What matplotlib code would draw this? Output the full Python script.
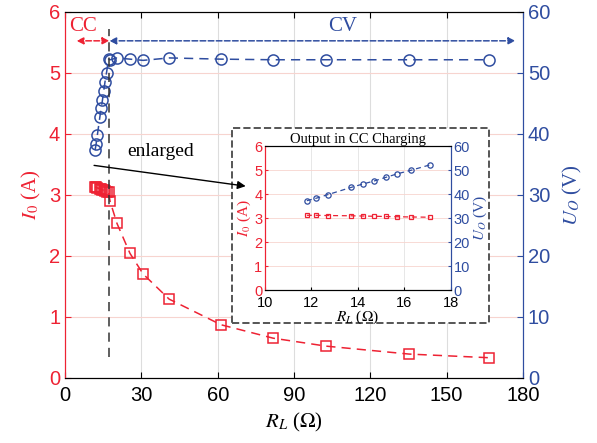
import numpy as np
import matplotlib
matplotlib.use("Agg")
import matplotlib.pyplot as plt
from matplotlib.patches import Rectangle

plt.rcParams['mathtext.fontset'] = 'stix'

# CC region (enlarged in inset)
rl_cc = [11.8, 12.2, 12.7, 13.7, 14.2, 14.7, 15.2, 15.7, 16.3, 17.1]
i_cc = [3.12, 3.12, 3.11, 3.10, 3.09, 3.08, 3.07, 3.06, 3.05, 3.04]
u_cc = [37.3, 38.3, 39.8, 42.8, 44.2, 45.5, 47.0, 48.5, 50.0, 52.2]

# CV region
rl_cv = [17.7, 20.4, 25.5, 30.7, 40.9, 61.3, 81.8, 102.6, 135.2, 166.7]
i_cv = [2.89, 2.53, 2.04, 1.70, 1.29, 0.87, 0.65, 0.52, 0.39, 0.33]
u_cv = [52.1, 52.4, 52.2, 52.0, 52.4, 52.2, 52.1, 52.1, 52.1, 52.1]

xticks = [0, 30, 60, 90, 120, 150, 180]
inset_xticks = [10, 12, 14, 16, 18]

RED = '#EE2233'
BLUE = '#2F4DA0'
SERIF = 'Liberation Serif'
SANS = 'Liberation Sans'

rl_all = rl_cc + rl_cv
i_all = i_cc + i_cv
u_all = u_cc + u_cv

fig = plt.figure(figsize=(5.97, 4.43), dpi=100)
ax = fig.add_axes([0.109, 0.147, 0.767, 0.827])
ax2 = ax.twinx()

ax.plot(rl_all, i_all, '--s', color=RED, mfc='none', ms=7, mew=1.1, lw=1.1,
        dashes=(6, 4))
ax2.plot(rl_all, u_all, '--o', color=BLUE, mfc='none', ms=8, mew=1.1, lw=1.1,
         dashes=(6, 4))

ax.set_xlim(0, 180)
ax.set_ylim(0, 6)
ax2.set_ylim(0, 60)
ax.set_xticks(xticks)
ax.set_yticks(range(7))
ax2.set_yticks(range(0, 61, 10))

ax.grid(axis='x', color='#dddddd', lw=0.8)
ax.grid(axis='y', color='#f7d4cf', lw=0.8)
ax.set_axisbelow(True)

for a in (ax, ax2):
    a.tick_params(direction='in', length=4, labelsize=14.5)
    for lab in a.get_xticklabels() + a.get_yticklabels():
        lab.set_family(SANS)
ax.tick_params(axis='y', colors=RED)
ax2.tick_params(axis='y', colors=BLUE)
ax.tick_params(axis='x', top=True, pad=6)
for a in (ax, ax2):
    a.spines['left'].set_color(RED)
    a.spines['right'].set_color(BLUE)

ax.set_xlabel(r'$R_L$ ($\Omega$)', fontsize=15, family=SERIF)
ax.set_ylabel(r'$I_0$ (A)', fontsize=15, color=RED, family=SERIF)
ax2.set_ylabel(r'$U_O$ (V)', fontsize=15, color=BLUE, family=SERIF, labelpad=8)

# boundary line and region arrows
ax2.plot([17.4, 17.4], [3.4, 57.2], '--', color='#333333', lw=1.1, dashes=(6, 4))
ax2.annotate('', xy=(4.5, 55.2), xytext=(17.4, 55.2),
             arrowprops=dict(arrowstyle='<|-|>', color=RED, lw=1.1, ls='--',
                             mutation_scale=10, shrinkA=0, shrinkB=0))
ax2.annotate('', xy=(177, 55.2), xytext=(17.4, 55.2),
             arrowprops=dict(arrowstyle='<|-|>', color=BLUE, lw=1.1, ls='--',
                             mutation_scale=10, shrinkA=0, shrinkB=0))
ax2.text(7, 56, 'CC', color=RED, fontsize=15, family=SERIF, ha='center', va='bottom')
ax2.text(109, 56, 'CV', color=BLUE, fontsize=15, family=SERIF, ha='center', va='bottom')

ax2.text(37.5, 37, 'enlarged', fontsize=14, family=SERIF, ha='center', va='center')

# dashed frame around inset
ax2.add_patch(Rectangle((0.389, 0.271), 0.430, 0.440, transform=fig.transFigure,
                        fc='white', ec='#555555', lw=1.4, ls='--', zorder=3,
                        clip_on=False))
ax2.annotate('', xy=(71, 31.4), xytext=(11.4, 34.8),
             arrowprops=dict(arrowstyle='-|>', color='black', lw=1.0,
                             mutation_scale=12, shrinkA=0, shrinkB=0), zorder=4)

ins = fig.add_axes([0.444, 0.345, 0.311, 0.325])
ins.set_zorder(10)
ins2 = ins.twinx()
ins2.set_zorder(11)
ins2.patch.set_visible(False)
ins.plot(rl_cc, i_cc, '--s', color=RED, mfc='none', ms=3.2, mew=0.9, lw=0.9, dashes=(4, 3))
ins2.plot(rl_cc, u_cc, '--o', color=BLUE, mfc='none', ms=3.8, mew=0.9, lw=0.9, dashes=(4, 3))
ins.set_xlim(10, 18)
ins.set_ylim(0, 6)
ins2.set_ylim(0, 60)
ins.set_xticks(inset_xticks)
ins.set_yticks(range(7))
ins2.set_yticks(range(0, 61, 10))
ins.grid(axis='x', color='#e3e3e3', lw=0.6)
ins.grid(axis='y', color='#f7d4cf', lw=0.6)
ins.set_axisbelow(True)
for a in (ins, ins2):
    a.tick_params(direction='in', length=2, labelsize=10.5, pad=2)
    for lab in a.get_xticklabels() + a.get_yticklabels():
        lab.set_family(SANS)
ins.tick_params(axis='x', pad=4)
ins.tick_params(axis='y', colors=RED)
ins2.tick_params(axis='y', colors=BLUE)
for a in (ins, ins2):
    a.spines['left'].set_color(RED)
    a.spines['right'].set_color(BLUE)
ins.set_title('Output in CC Charging', fontsize=10.5, family=SERIF, pad=1)
ins.set_xlabel(r'$R_L$ ($\Omega$)', fontsize=11, family=SERIF, labelpad=-1)
ins.set_ylabel(r'$I_0$ (A)', fontsize=11, color=RED, family=SERIF, labelpad=1)
ins2.set_ylabel(r'$U_O$ (V)', fontsize=11, color=BLUE, family=SERIF, labelpad=1)

fig.savefig('out.png', dpi=100)
